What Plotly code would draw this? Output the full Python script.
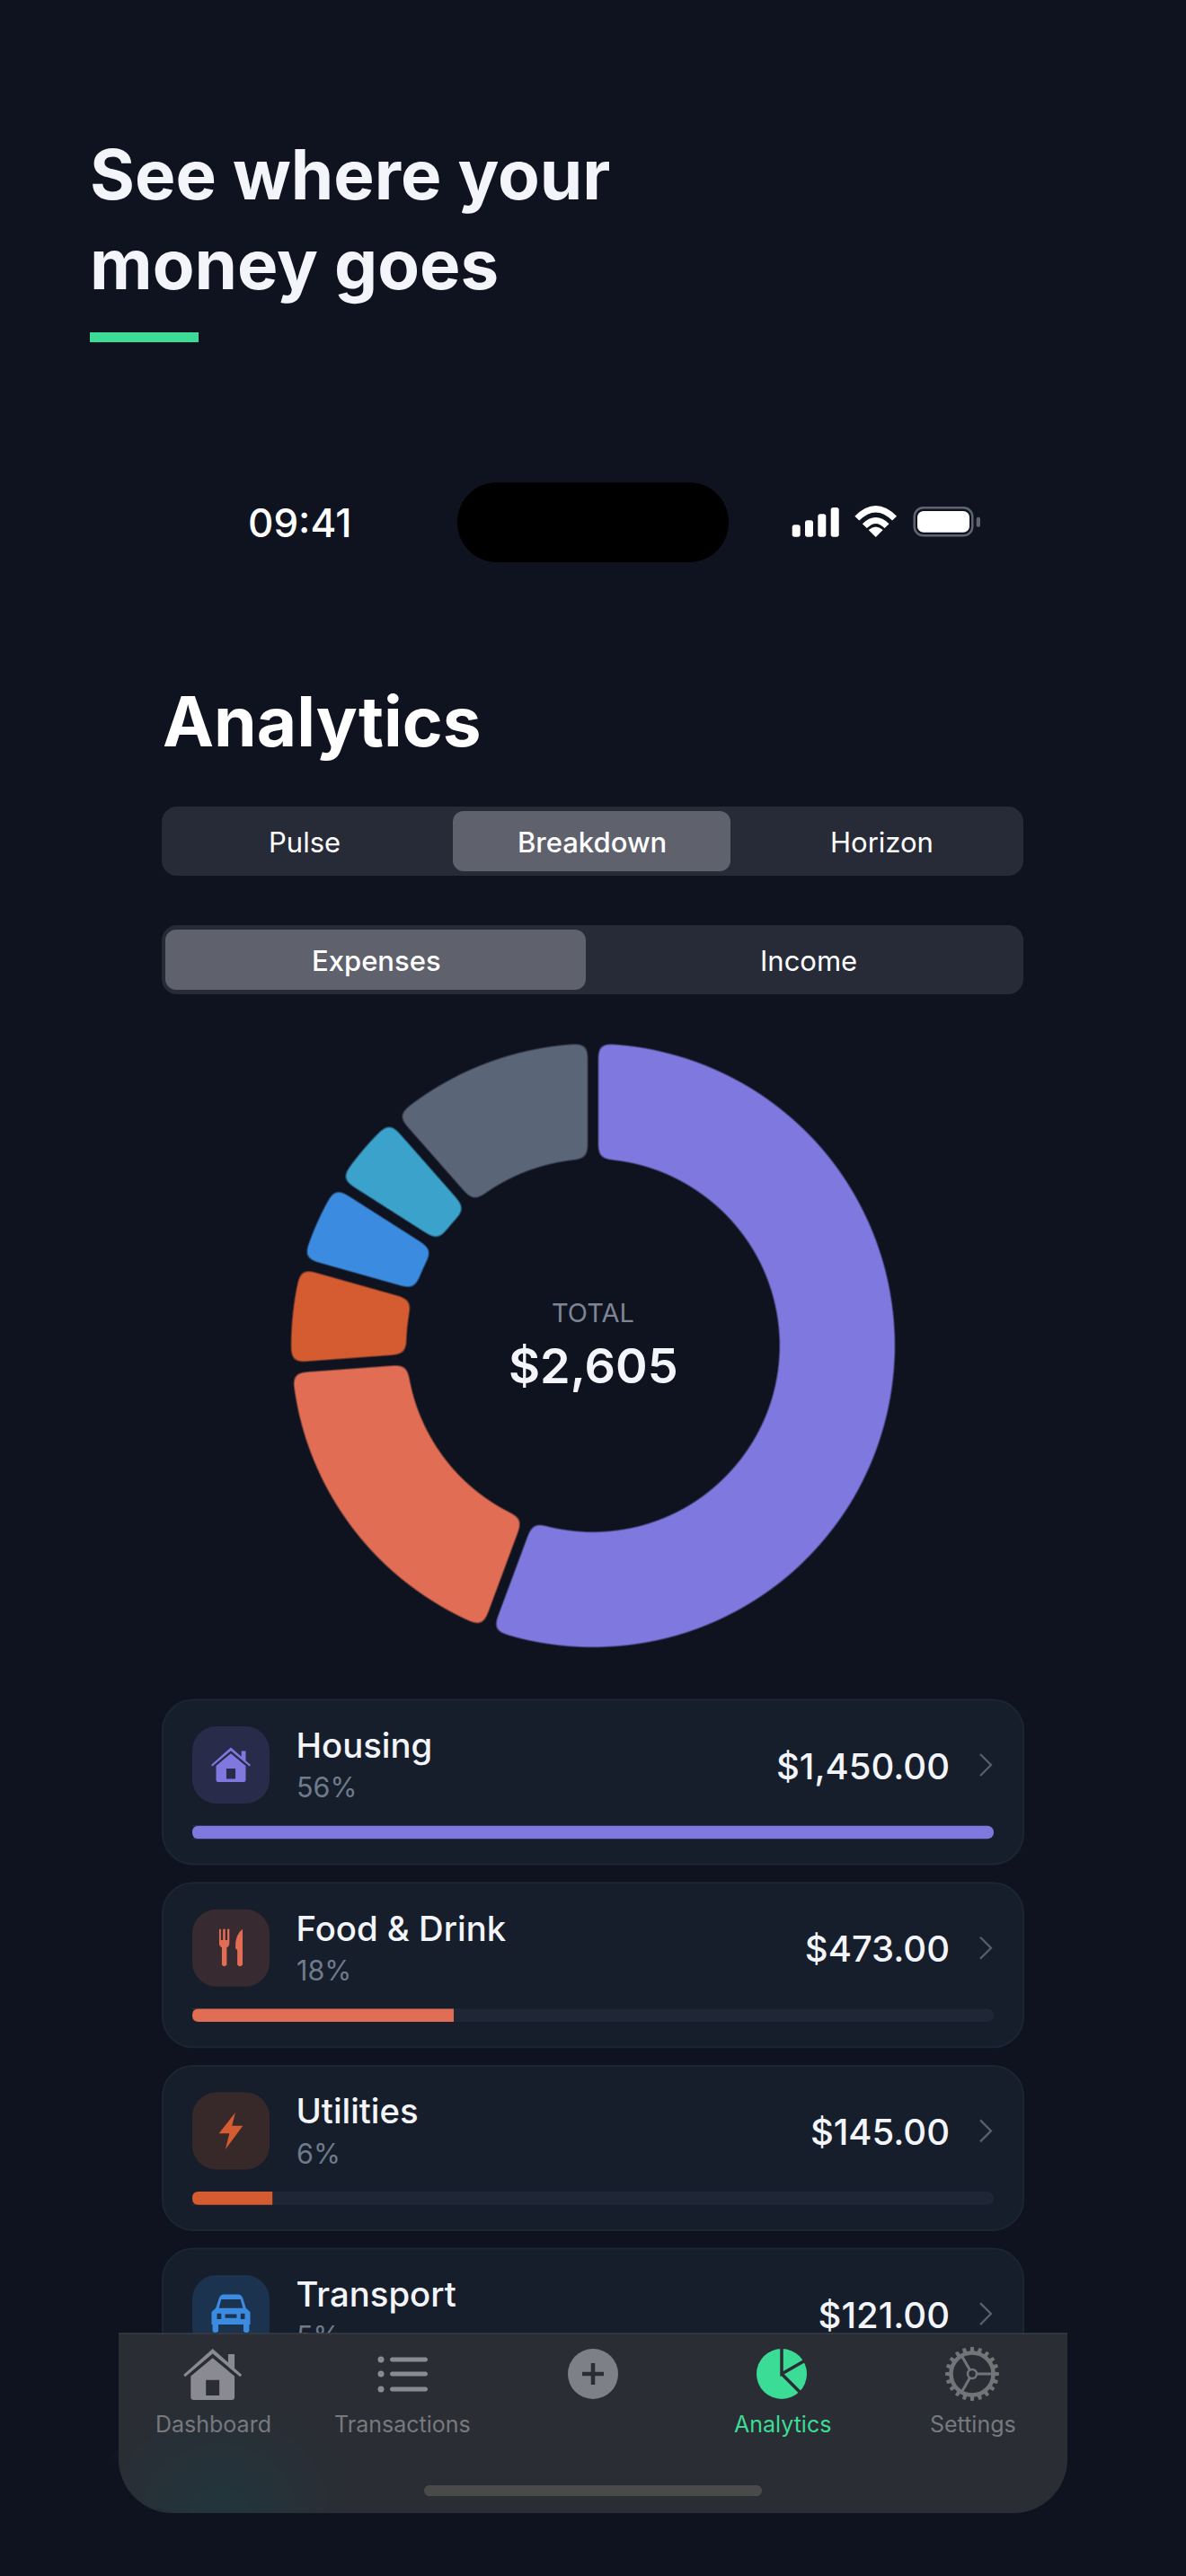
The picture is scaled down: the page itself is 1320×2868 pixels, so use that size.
import math
import plotly.graph_objects as go

W, H = 1320, 2868
BG = "#0F131F"
FONT = "Inter, 'Noto Sans', sans-serif"

# donut and list data
slice_names = ["Housing", "Food & Drink", "Utilities", "Transport", "Health", "Other"]
slice_values = [1450, 473, 145, 121, 117, 299]
slice_colors = ["#7F78DE", "#E16E54", "#D55B31", "#3B8CE0", "#3BA2CB", "#5B6578"]

row_names = ["Housing", "Food & Drink", "Utilities", "Transport"]
row_values = [1450, 473, 145, 121]
row_colors = ["#7F78DE", "#E16E54", "#D55B31", "#3B8CE0"]
row_tints = ["#292B4A", "#372A30", "#372829", "#1C3350"]

seg_top = ["Pulse", "Breakdown", "Horizon"]
seg_bottom = ["Expenses", "Income"]
nav_labels = ["Dashboard", "Transactions", "Analytics", "Settings"]

total = sum(slice_values)
ROW_TOP = 1892.5
ROW_STEP = 203.7
row_tops = [ROW_TOP + i * ROW_STEP for i in range(len(row_names))]

shapes = []
annotations = []


def rrect(x0, y0, x1, y1, r, r_bottom=None):
    rb = r if r_bottom is None else r_bottom
    k, kb = r * 0.45, rb * 0.45
    return (f"M {x0+r} {y0} L {x1-r} {y0} C {x1-k} {y0} {x1} {y0+k} {x1} {y0+r} "
            f"L {x1} {y1-rb} C {x1} {y1-kb} {x1-kb} {y1} {x1-rb} {y1} "
            f"L {x0+rb} {y1} C {x0+kb} {y1} {x0} {y1-kb} {x0} {y1-rb} "
            f"L {x0} {y0+r} C {x0} {y0+k} {x0+k} {y0} {x0+r} {y0} Z")


def place(d, cx, cy, s):
    # scale a unit icon path (absolute pairs only) onto the page
    out, buf = [], []
    for tok in d.split():
        if tok.isalpha():
            out.append(tok)
        else:
            buf.append(float(tok))
            if len(buf) == 2:
                out.append(f"{cx + buf[0]*s:.2f} {cy + buf[1]*s:.2f}")
                buf = []
    return " ".join(out)


def add_path(d, fill=None, line=None, width=0, layer="below"):
    shapes.append(dict(type="path", path=d, xref="x", yref="y", layer=layer,
                       fillcolor=fill or "rgba(0,0,0,0)",
                       line=dict(color=line or "rgba(0,0,0,0)", width=width)))


def add_text(x, y, text, size, color, anchor="center", weight=400):
    annotations.append(dict(x=x, y=y, xref="x", yref="y", text=text, showarrow=False,
                            xanchor=anchor, yanchor="middle",
                            font=dict(family=FONT, size=size, color=color, weight=weight)))


HOUSE = ("M 0 -0.89 L 0.53 -0.42 L 0.53 -0.71 L 0.75 -0.71 L 0.75 -0.22 L 1 0 L 0.94 0.07 "
         "L 0 -0.72 L -0.94 0.07 L -1 0 Z "
         "M 0 -0.58 L 0.75 0.05 L 0.75 0.76 Q 0.75 0.86 0.65 0.86 L -0.65 0.86 Q -0.75 0.86 -0.75 0.76 "
         "L -0.75 0.05 Z M -0.23 0.18 L 0.23 0.18 L 0.23 0.71 L -0.23 0.71 Z")
FORK = ("M -0.62 -1 L -0.53 -1 L -0.53 -0.42 L -0.42 -0.42 L -0.42 -1 L -0.3 -1 L -0.3 -0.42 L -0.19 -0.42 "
        "L -0.19 -1 L -0.08 -1 L -0.08 -0.25 Q -0.08 -0.08 -0.22 -0.02 L -0.22 0.9 Q -0.35 1.05 -0.48 0.9 "
        "L -0.48 -0.02 Q -0.62 -0.08 -0.62 -0.25 Z")
KNIFE = "M 0.62 -1 L 0.62 0.9 Q 0.48 1.05 0.34 0.9 L 0.34 0.12 L 0.24 0.02 Q 0.2 -0.7 0.62 -1 Z"
BOLT = "M 0.24 -1 L -0.65 0.14 L -0.08 0.14 L -0.3 1 L 0.65 -0.28 L 0.06 -0.28 Z"
CAR = ("M -0.62 -0.8 Q -0.55 -1 -0.35 -1 L 0.35 -1 Q 0.55 -1 0.62 -0.8 L 0.78 -0.3 L 1 -0.1 L 1 0.55 "
       "L 0.95 0.55 L 0.95 0.9 Q 0.8 1.05 0.65 0.9 L 0.65 0.55 L -0.65 0.55 L -0.65 0.9 Q -0.8 1.05 -0.95 0.9 "
       "L -0.95 0.55 L -1 0.55 L -1 -0.1 L -0.78 -0.3 Z "
       "M -0.5 -0.75 L 0.5 -0.75 L 0.62 -0.3 L -0.62 -0.3 Z "
       "M -0.72 -0.02 L -0.5 -0.02 L -0.5 0.28 L -0.72 0.28 Z M 0.5 -0.02 L 0.72 -0.02 L 0.72 0.28 L 0.5 0.28 Z "
       "M -0.3 0.02 L 0.3 0.02 L 0.3 0.22 L -0.3 0.22 Z")

# page header
add_text(98, 194, "See where your", 76.3, "#F3F5FA", "left", 700)
add_text(98, 294, "money goes", 76.3, "#F3F5FA", "left", 700)
add_path(rrect(100, 370, 221, 381, 0), fill="#3BDC96")

# status bar
add_text(333, 582, "09:41", 44, "#FFFFFF", "center", 500)
add_path(rrect(509, 537, 811, 626, 44), fill="#000000")
for bx, bh in zip([881.7, 896, 910.3, 924.7], [13.4, 18.4, 25.4, 32.7]):
    add_path(rrect(bx, 597.7 - bh, bx + 9, 597.7, 2.5), fill="#FFFFFF")
wx, wy = 974.7, 598
for r in [29.5, 17.5]:
    k = r * math.sin(math.radians(45))
    add_path(f"M {wx-k} {wy-k} Q {wx} {wy-2*k} {wx+k} {wy-k}", line="#FFFFFF", width=7)
add_path(f"M {wx} {wy} L {wx-8} {wy-8} Q {wx} {wy-15} {wx+8} {wy-8} Z", fill="#FFFFFF")
add_path(rrect(1017.7, 565.3, 1082.3, 596.3, 10), line="#5F6570", width=2.5)
add_path(rrect(1021, 569, 1079, 592.7, 7), fill="#FFFFFF")
add_path(rrect(1086.7, 575.7, 1091, 586.7, 2), fill="#5F6570")

add_text(179, 803, "Analytics", 76.5, "#FFFFFF", "left", 700)

# segmented controls
add_path(rrect(180, 898, 1139, 975, 17), fill="#272B37")
add_path(rrect(504, 903, 813, 970, 12), fill="#5F626D")
for cx, lab in zip([339, 659, 981], seg_top):
    add_text(cx, 937, lab, 31, "#FFFFFF", "center", 500 if lab == "Breakdown" else 400)
add_path(rrect(180, 1030, 1139, 1107, 17), fill="#272B37")
add_path(rrect(184, 1035, 652, 1102, 12), fill="#5F626D")
for cx, lab in zip([419, 900], seg_bottom):
    add_text(cx, 1069, lab, 31, "#FFFFFF", "center", 500 if lab == "Expenses" else 400)

# donut centre
add_text(660, 1461, "TOTAL", 29, "#7D8595", "center", 400)
add_text(660, 1520, f"${total:,}", 54, "#F3F5FA", "center", 600)

# list rows
for top, tint in zip(row_tops, row_tints):
    add_path(rrect(181, top, 1139, top + 183, 34), fill="#161E2B", line="#1C2533", width=2)
    add_path(rrect(214, top + 29.5, 300, top + 115.5, 27), fill=tint)
    ty = top + 72.5
    add_path(f"M 1091 {ty-12} L 1103 {ty} L 1091 {ty+12}", line="#56606F", width=2.2)

add_path(place(HOUSE, 257, row_tops[0] + 72.5, 22), fill=row_colors[0])
add_path(place(FORK, 257, row_tops[1] + 72.5, 21), fill=row_colors[1])
add_path(place(KNIFE, 257, row_tops[1] + 72.5, 21), fill=row_colors[1])
add_path(place(BOLT, 257, row_tops[2] + 72.5, 20.5), fill=row_colors[2])
add_path(place(CAR, 257, row_tops[3] + 72.5, 21.5), fill=row_colors[3])

# square left ends of the progress bars get their corners trimmed with the card colour
for top in row_tops:
    y0, y1 = top + 140.2, top + 154.8
    add_path(f"M 214 {y0} L 221 {y0} Q 214 {y0} 214 {y0+7} Z", fill="#161E2B", layer="above")
    add_path(f"M 214 {y1} L 221 {y1} Q 214 {y1} 214 {y1-7} Z", fill="#161E2B", layer="above")

# bottom nav sits over the list (layer above the row text)
NAV_BG = "#2A2D33"
NAV_L, NAV_R, NAV_T, NAV_B = 132, 1188, 2598, 2798
add_path(rrect(NAV_L, NAV_T, NAV_R, NAV_B, 0.01, 60), fill=NAV_BG, layer="above")

# faint teal glow from the blurred backdrop, bottom left of the bar
for r in [140, 122, 104, 86, 68, 50, 34, 20]:
    pts = []
    for i in range(37):
        a = math.pi + i * math.pi / 36
        x = 245 + r * math.cos(a)
        y = NAV_B + 0.9 * r * math.sin(a)
        if x < NAV_L + 60 and y > NAV_B - 60:
            x = max(x, NAV_L + 60 - math.sqrt(max(3600 - (y - NAV_B + 60) ** 2, 0)))
        pts.append(f"{x:.1f} {y:.1f}")
    add_path("M " + " L ".join(pts) + " Z", fill="rgba(34,72,92,0.04)", layer="above")

add_path(f"M {NAV_L} {NAV_T} L {NAV_R} {NAV_T}", line="#393D46", width=1.5, layer="above")
add_path(rrect(472, 2767, 848, 2779, 6), fill="#4A4A4A", layer="above")

NAV_GREY = "#898B91"
GEAR_GREY = "#737478"
ICON_Y = 2643
add_path(place(HOUSE, 236.7, ICON_Y + 1, 32.5), fill=NAV_GREY, layer="above")
for ly in [2627, 2643, 2660]:
    shapes.append(dict(type="circle", xref="x", yref="y", x0=420.5, x1=427.5, y0=ly - 3.5, y1=ly + 3.5,
                       fillcolor=NAV_GREY, line=dict(width=0), layer="above"))
    add_path(rrect(434, ly - 2.5, 476, ly + 2.5, 2.5), fill=NAV_GREY, layer="above")
shapes.append(dict(type="circle", xref="x", yref="y", x0=632, x1=688, y0=ICON_Y - 28, y1=ICON_Y + 28,
                   fillcolor="#7E8087", line=dict(width=0), layer="above"))
add_path(f"M 648 {ICON_Y} L 672 {ICON_Y}", line=NAV_BG, width=4.5, layer="above")
add_path(f"M 660 {ICON_Y-12} L 660 {ICON_Y+12}", line=NAV_BG, width=4.5, layer="above")
shapes.append(dict(type="circle", xref="x", yref="y", x0=842, x1=898, y0=ICON_Y - 28, y1=ICON_Y + 28,
                   fillcolor="#3BDC96", line=dict(width=0), layer="above"))
add_path(f"M 870 {ICON_Y-30} L 870 {ICON_Y} L 897 {ICON_Y-15.5} M 870 {ICON_Y} L 892 {ICON_Y+22}",
         line=NAV_BG, width=3.5, layer="above")

# gear icon
gx = 1082
teeth = []
for i in range(20):
    a = i * 2 * math.pi / 20
    p = [(a - 0.10, 24), (a - 0.06, 30), (a + 0.06, 30), (a + 0.10, 24)]
    teeth.append("M " + " L ".join(f"{gx + r*math.sin(t):.1f} {ICON_Y - r*math.cos(t):.1f}" for t, r in p) + " Z")
add_path(" ".join(teeth), fill=GEAR_GREY, layer="above")
shapes.append(dict(type="circle", xref="x", yref="y", x0=gx - 23.5, x1=gx + 23.5, y0=ICON_Y - 23.5, y1=ICON_Y + 23.5,
                   line=dict(color=GEAR_GREY, width=4.5), layer="above"))
spokes = " ".join(
    f"M {gx} {ICON_Y} L {gx + 24*math.cos(math.radians(d)):.1f} {ICON_Y + 24*math.sin(math.radians(d)):.1f}"
    for d in [0, 120, 240])
add_path(spokes, line=GEAR_GREY, width=3, layer="above")
shapes.append(dict(type="circle", xref="x", yref="y", x0=gx - 5, x1=gx + 5, y0=ICON_Y - 5, y1=ICON_Y + 5,
                   fillcolor=NAV_BG, line=dict(color=GEAR_GREY, width=2.5), layer="above"))

for cx, lab in zip([237, 448, 871, 1083], nav_labels):
    add_text(cx, 2699, lab, 25, "#3BDC96" if lab == "Analytics" else "#77797F", "center", 400)

fig = go.Figure()

# donut: radius is oversized a little, the rounding filter eats it back
R = 342
CX, CY = 660, 1498
fig.add_trace(go.Pie(
    labels=slice_names, values=slice_values, hole=202 / 342, sort=False,
    direction="clockwise", rotation=0, textinfo="none", hoverinfo="skip", showlegend=False,
    marker=dict(colors=slice_colors, line=dict(width=0)),
    domain=dict(x=[(CX - R) / W, (CX + R) / W], y=[1 - (CY + R) / H, 1 - (CY - R) / H]),
))

# row texts are traces so the nav bar can cover them
row_title_y = [t + 55 for t in row_tops]
row_pct_y = [t + 101 for t in row_tops]
row_amount_y = [t + 78 for t in row_tops]
fig.add_trace(go.Scatter(x=[329.5] * 4, y=row_title_y, mode="text", text=row_names, textposition="middle right",
                         textfont=dict(family=FONT, size=38.3, color="#F3F5FA", weight=500), hoverinfo="skip"))
fig.add_trace(go.Scatter(x=[330] * 4, y=row_pct_y, mode="text",
                         text=[f"{round(100 * v / total)}%" for v in row_values], textposition="middle right",
                         textfont=dict(family=FONT, size=30.5, color="#6F7A8B"), hoverinfo="skip"))
fig.add_trace(go.Scatter(x=[1057] * 4, y=row_amount_y, mode="text",
                         text=[f"${v:,.2f}" for v in row_values], textposition="middle left",
                         textfont=dict(family=FONT, size=40, color="#F3F5FA", weight=500), hoverinfo="skip"))

# progress bars on their own axis, scaled to the biggest category
bar_y = [t + 147.5 for t in row_tops]
fig.add_trace(go.Bar(x=[max(row_values)] * 4, y=bar_y, orientation="h", width=14.6, xaxis="x2", yaxis="y2",
                     marker=dict(color="#1F2635", line=dict(width=0)), hoverinfo="skip"))
fig.add_trace(go.Bar(x=row_values, y=bar_y, orientation="h", width=14.6, xaxis="x2", yaxis="y2",
                     marker=dict(color=row_colors, line=dict(width=0)), hoverinfo="skip"))

fig.update_layout(
    width=W, height=H, margin=dict(l=0, r=0, t=0, b=0), autosize=False,
    paper_bgcolor=BG, plot_bgcolor="rgba(0,0,0,0)", showlegend=False, hovermode=False,
    barmode="overlay", barcornerradius=7,
    xaxis=dict(range=[0, W], visible=False, domain=[0, 1], fixedrange=True),
    yaxis=dict(range=[H, 0], visible=False, domain=[0, 1], fixedrange=True),
    xaxis2=dict(range=[0, max(row_values)], visible=False, domain=[214 / W, 1106 / W], anchor="y2", fixedrange=True),
    yaxis2=dict(range=[H, 0], visible=False, domain=[0, 1], anchor="x2", fixedrange=True),
    shapes=shapes, annotations=annotations,
)

# blur + threshold filter gives the donut slices their gap and round corners
POST = """
document.documentElement.style.background='%s';
document.body.style.margin='0';
document.body.style.background='%s';
var svg=document.querySelector('.main-svg');
var ns='http://www.w3.org/2000/svg';
var defs=svg.querySelector('defs')||svg.insertBefore(document.createElementNS(ns,'defs'),svg.firstChild);
var f=document.createElementNS(ns,'filter');
f.setAttribute('id','roundslice');
f.setAttribute('color-interpolation-filters','sRGB');
f.innerHTML='<feGaussianBlur in="SourceAlpha" stdDeviation="9" result="b"/>'
 +'<feComponentTransfer in="b" result="t"><feFuncA type="linear" slope="12" intercept="-8.47"/></feComponentTransfer>'
 +'<feComposite in="SourceGraphic" in2="t" operator="in"/>';
defs.appendChild(f);
document.querySelectorAll('.pielayer path.surface').forEach(function(p){p.setAttribute('filter','url(#roundslice)');});
""" % (BG, BG)

fig.write_html("out.html", post_script=POST, config=dict(displayModeBar=False))
